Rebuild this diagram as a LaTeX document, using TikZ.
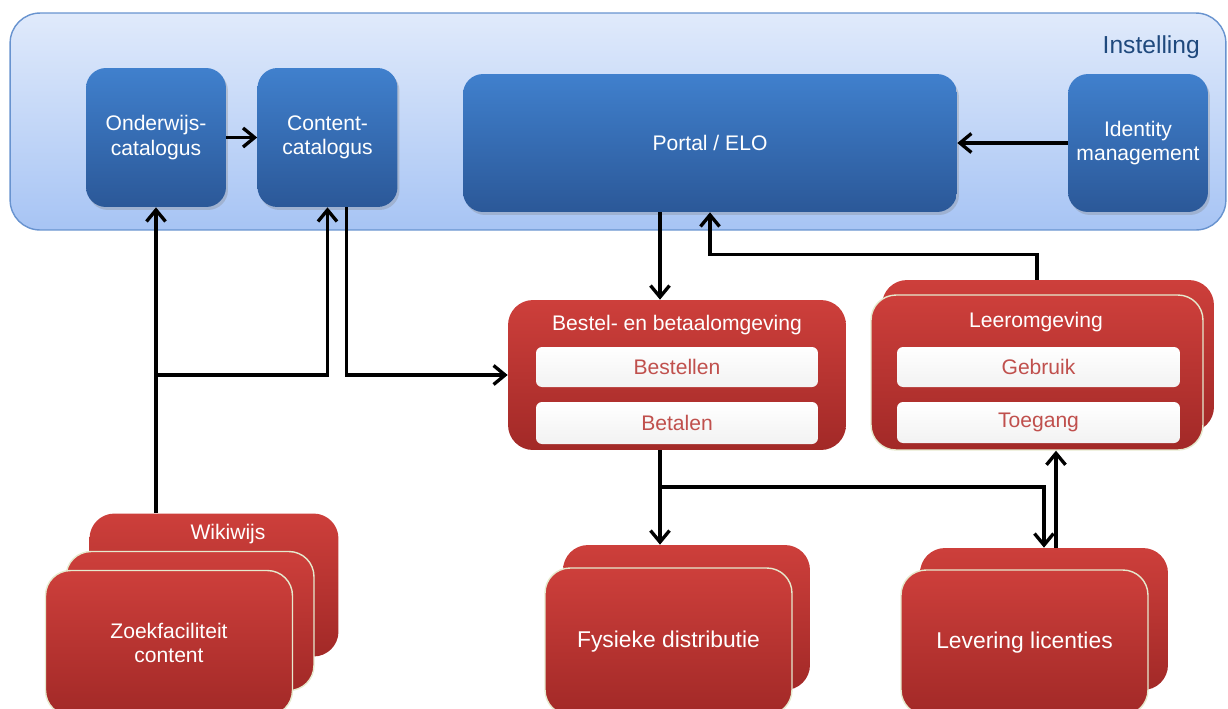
\documentclass[tikz,border=0pt]{standalone}
\usepackage{fontspec}
\setmainfont{Liberation Sans}
\usetikzlibrary{arrows.meta,shadows}

\definecolor{bluetop}{RGB}{64,128,205}
\definecolor{bluebot}{RGB}{43,88,152}
\definecolor{paletop}{RGB}{224,234,251}
\definecolor{palebot}{RGB}{167,196,244}
\definecolor{paleline}{RGB}{104,147,207}
\definecolor{redtop}{RGB}{205,63,59}
\definecolor{redbot}{RGB}{162,41,39}
\definecolor{redtext}{RGB}{192,80,77}
\definecolor{cardedge}{RGB}{230,234,206}
\definecolor{darkblue}{RGB}{31,73,125}

\tikzset{
  bluebox/.style={rounded corners=0.4cm, top color=bluetop, bottom color=bluebot,
    text=white, align=center, inner sep=0pt, font=\fontsize{12}{14}\selectfont,
    minimum width=2.8cm, minimum height=2.78cm,
    drop shadow={opacity=0.3,shadow xshift=0.04cm,shadow yshift=-0.06cm}},
  redcard/.style={rounded corners=0.5cm, top color=redtop, bottom color=redbot,
    text=white, align=center, inner sep=0pt, font=\fontsize{12}{14}\selectfont,
    minimum width=4.96cm, minimum height=2.86cm},
  frontcard/.style={redcard, draw=cardedge, line width=0.8pt},
  whitebox/.style={rounded corners=0.12cm, top color=white, bottom color=white!95!black,
    text=redtext, inner sep=0pt, font=\fontsize{12}{14}\selectfont,
    minimum width=5.64cm, minimum height=0.8cm},
  titletext/.style={text=white, font=\fontsize{12}{14}\selectfont},
  conn/.style={line width=1.9pt, ->},
}

\begin{document}
\begin{tikzpicture}[x=0.02cm,y=-0.02cm,>={Straight Barb[length=2.3mm,width=3.8mm]}]
\useasboundingbox (0,0) rectangle (1228,708);

% instelling
\node[rounded corners=0.6cm, top color=paletop, bottom color=palebot, draw=paleline,
  line width=0.8pt, minimum width=24.32cm, minimum height=4.34cm] (instelling) at (618,121.5) {};
\node[anchor=east, text=darkblue, font=\fontsize{14}{16}\selectfont] (instlabel) at (1206,47) {Instelling};

\node[bluebox] (onderwijs) at (156,137.5) {Onderwijs-\\catalogus};
\node[bluebox] (content) at (327.5,137.5) {Content-\\catalogus};
\node[bluebox, minimum width=9.88cm, minimum height=2.76cm] (portal) at (710,143) {Portal / ELO};
\node[bluebox, minimum height=2.76cm] (identity) at (1138,143) {Identity\\management};

% bestel- en betaalomgeving
\node[redcard, minimum width=6.76cm, minimum height=3cm] (bestel) at (677,375) {};
\node[titletext] (besteltitle) at (677,325) {Bestel- en betaalomgeving};
\node[whitebox] (bestellen) at (677,367) {Bestellen};
\node[whitebox, minimum height=0.84cm] (betalen) at (677,423) {Betalen};

% leeromgeving
\node[redcard, minimum width=6.64cm, minimum height=3.04cm] (leerback) at (1048,356) {};
\node[frontcard, minimum width=6.64cm, minimum height=3.1cm] (leer) at (1037,372.5) {};
\node[titletext] (leertitle) at (1036,322) {Leeromgeving};
\node[whitebox, minimum width=5.66cm] (gebruik) at (1038.5,367) {Gebruik};
\node[whitebox, minimum width=5.66cm, minimum height=0.82cm] (toegang) at (1038.5,422.5) {Toegang};

% wikiwijs
\node[redcard, minimum width=4.98cm, minimum height=2.86cm] (wikiback) at (214,585) {};
\node[titletext] (wikititle) at (228,534) {Wikiwijs};
\node[frontcard, minimum width=4.96cm, minimum height=2.78cm] (wikimid) at (190,621) {};
\node[frontcard, minimum width=4.94cm, minimum height=2.9cm] (wiki) at (169,643) {Zoekfaciliteit\\content};

% fysieke distributie
\node[redcard, minimum width=4.94cm, minimum height=2.9cm] (fysback) at (686.5,617.5) {};
\node[frontcard, minimum width=4.94cm, minimum height=2.94cm, font=\fontsize{13}{15}\selectfont] (fys) at (668.5,641.5) {Fysieke distributie};

% levering licenties
\node[redcard, minimum width=4.96cm, minimum height=2.84cm] (levback) at (1044,619) {};
\node[frontcard, minimum width=4.94cm, minimum height=2.9cm, font=\fontsize{13}{15}\selectfont] (lev) at (1024.5,642.5) {Levering licenties};

% verbindingen
\draw[conn] (onderwijs.east) -- (content.west);
\draw[conn] (identity.west) -- (portal.east);
\draw[conn] (onderwijs.south |- wikiback.north) -- (onderwijs.south);
\coordinate (wikijoin) at (onderwijs.south |- bestel.west);
\draw[conn] (wikijoin) -| (content.south);
\draw[conn] ([xshift=0.38cm]content.south) |- (bestel.west);
\coordinate (bestelin) at ([xshift=-0.34cm]bestel.north);
\draw[conn] (portal.south -| bestelin) -- (bestelin);
\draw[conn] (leer.north |- leerback.north) -- ++(0,-25) -| (portal.south);
\coordinate (bestelout) at ([xshift=-0.34cm]bestel.south);
\draw[conn] (bestelout) -- (bestelout |- fysback.north);
\draw[conn] (bestelout |- 0,487) -| (levback.north);
\coordinate (levout) at ([xshift=0.24cm]levback.north);
\draw[conn] (levout) -- (levout |- leer.south);

\end{tikzpicture}
\end{document}
